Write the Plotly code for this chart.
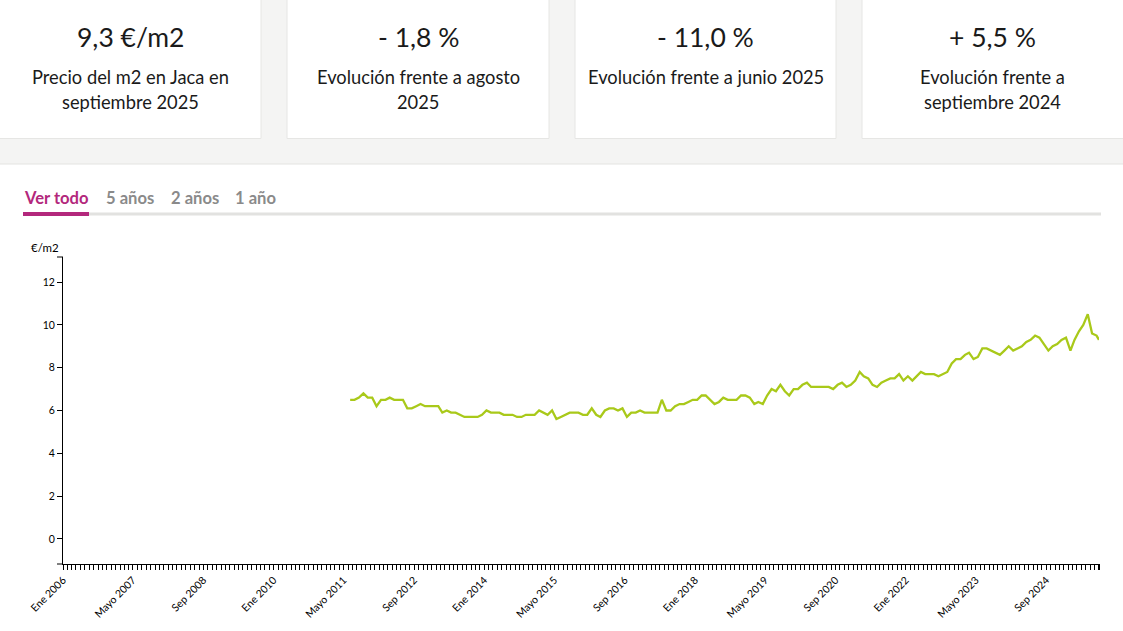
import plotly.graph_objects as go

# ---------------- data ----------------
month_names = ["Ene", "Feb", "Mar", "Abr", "Mayo", "Jun", "Jul", "Ago", "Sep", "Oct", "Nov", "Dic"]
first_year = 2006
last_year = 2025
last_month = 9  # Sep 2025

shown_tick_labels = ["Ene 2006", "Mayo 2007", "Sep 2008", "Ene 2010", "Mayo 2011", "Sep 2012",
                     "Ene 2014", "Mayo 2015", "Sep 2016", "Ene 2018", "Mayo 2019", "Sep 2020",
                     "Ene 2022", "Mayo 2023", "Sep 2024"]

data_start_year, data_start_month = 2011, 6  # Jun 2011
prices = [
    # Jun 2011 ->
    6.5, 6.5, 6.6, 6.8, 6.6, 6.6, 6.2, 6.5, 6.5, 6.6, 6.5, 6.5, 6.5, 6.1, 6.1, 6.2, 6.3, 6.2, 6.2, 6.2,
    6.2, 5.9, 6.0, 5.9, 5.9, 5.8, 5.7, 5.7, 5.7, 5.7, 5.8, 6.0, 5.9, 5.9, 5.9, 5.8, 5.8, 5.8, 5.7, 5.7,
    5.8, 5.8,
    5.8, 6.0, 5.9, 5.8, 6.0, 5.6, 5.7, 5.8, 5.9, 5.9, 5.9, 5.8, 5.8, 6.1, 5.8, 5.7, 6.0, 6.1, 6.1, 6.0,
    6.1, 5.7, 5.9, 5.9, 6.0, 5.9, 5.9, 5.9, 5.9, 6.5, 6.0, 6.0, 6.2, 6.3, 6.3, 6.4, 6.5, 6.5, 6.7, 6.7,
    6.5, 6.3,
    6.4, 6.6, 6.5, 6.5, 6.5, 6.7, 6.7, 6.6, 6.3, 6.4, 6.3, 6.7, 7.0, 6.9, 7.2, 6.9, 6.7, 7.0, 7.0, 7.2,
    7.3, 7.1, 7.1, 7.1, 7.1, 7.1, 7.0, 7.2, 7.3, 7.1, 7.2, 7.4, 7.8, 7.6, 7.5, 7.2, 7.1, 7.3, 7.4, 7.5,
    7.5, 7.7, 7.4, 7.6, 7.4,
    7.6, 7.8, 7.7, 7.7, 7.7, 7.6, 7.7, 7.8,
    8.2, 8.4, 8.4, 8.6, 8.7, 8.4, 8.5, 8.9, 8.9, 8.8, 8.7, 8.6, 8.8, 9.0, 8.8, 8.9, 9.0, 9.2, 9.3, 9.5,
    9.4, 9.1, 8.8, 9.0, 9.1, 9.3, 9.4, 8.8, 9.3, 9.7, 10.0, 10.5, 9.6, 9.5, 9.3,
]

y_ticks = [0, 2, 4, 6, 8, 10, 12]

card_values = ["9,3 €/m2", "- 1,8 %", "- 11,0 %", "+ 5,5 %"]
card_lines = [
    ["Precio del m2 en Jaca en", "septiembre 2025"],
    ["Evolución frente a agosto", "2025"],
    ["Evolución frente a junio 2025"],
    ["Evolución frente a", "septiembre 2024"],
]
tabs = ["Ver todo", "5 años", "2 años", "1 año"]

# ---------------- derived axis values ----------------
month_starts = []   # ISO dates of each month (axis ticks)
month_labels = []
for y in range(first_year, last_year + 1):
    for mi, name in enumerate(month_names, start=1):
        if y == last_year and mi > last_month:
            break
        month_starts.append(f"{y}-{mi:02d}-01")
        month_labels.append(f"{name} {y}")

start_idx = month_starts.index(f"{data_start_year}-{data_start_month:02d}-01")
xs = [d[:8] + "15" for d in month_starts[start_idx:start_idx + len(prices)]]
xs[-1] = month_starts[-1]  # last observation drawn at the end of the axis

# ---------------- layout helpers ----------------
W, H = 1123, 631
PL, PR, PT, PB = 63, 1099, 257, 564  # plot area in pixels


def fx(px):
    return (px - PL) / (PR - PL)


def fy(py):
    return (PB - py) / (PB - PT)


FONT = "Lato"
TEXT = "#1a1a1a"
LIME = "#a9c91a"
MAGENTA = "#b3287c"

fig = go.Figure()
fig.add_trace(go.Scatter(x=xs, y=prices, mode="lines", line=dict(color=LIME, width=2.3),
                         hoverinfo="y", showlegend=False))

shapes = []
annotations = []

# grey band with cards
shapes.append(dict(type="rect", xref="paper", yref="paper", x0=fx(-5), x1=fx(W + 5), y0=fy(164), y1=fy(-5),
                   fillcolor="#f4f4f3", line=dict(width=0), layer="below"))
shapes.append(dict(type="line", xref="paper", yref="paper", x0=fx(-5), x1=fx(W + 5), y0=fy(164), y1=fy(164),
                   line=dict(color="#e3e3e1", width=1.2)))
card_x = [(-3, 261), (287, 549), (575, 836), (862, 1126)]
for (x0, x1), val, lines in zip(card_x, card_values, card_lines):
    shapes.append(dict(type="rect", xref="paper", yref="paper", x0=fx(x0), x1=fx(x1), y0=fy(138.5), y1=fy(-3),
                       fillcolor="white", line=dict(color="#e6e6e4", width=1)))
    cx = fx((max(x0, -1) + min(x1, 1123)) / 2)
    annotations.append(dict(x=cx, y=fy(37), xref="paper", yref="paper", text=val, showarrow=False,
                            xanchor="center", yanchor="middle", font=dict(family=FONT, size=26.5, color=TEXT)))
    for k, ln in enumerate(lines):
        annotations.append(dict(x=cx, y=fy(77 + 25 * k), xref="paper", yref="paper", text=ln, showarrow=False,
                                xanchor="center", yanchor="middle", font=dict(family=FONT, size=18.3, color=TEXT)))

# tabs
tab_x = [21.5, 103.5, 168.5, 232.5]
for i, (t, x0) in enumerate(zip(tabs, tab_x)):
    annotations.append(dict(x=fx(x0), y=fy(198), xref="paper", yref="paper", text=f"<b>{t}</b>", showarrow=False,
                            xanchor="left", yanchor="middle",
                            font=dict(family=FONT, size=16.6, color=MAGENTA if i == 0 else "#8a8a8a")))
shapes.append(dict(type="rect", xref="paper", yref="paper", x0=fx(23), x1=fx(1101), y0=fy(215.5), y1=fy(212.5),
                   fillcolor="#e2e2e0", line=dict(width=0)))
shapes.append(dict(type="rect", xref="paper", yref="paper", x0=fx(23), x1=fx(89), y0=fy(216), y1=fy(212),
                   fillcolor=MAGENTA, line=dict(width=0)))

# y axis unit label
annotations.append(dict(x=fx(29), y=fy(247), xref="paper", yref="paper", text="€/m2", showarrow=False,
                        xanchor="left", yanchor="middle", font=dict(family=FONT, size=11.5, color="#000")))

# outer ticks of axes (domain ends)
shapes.append(dict(type="line", xref="paper", yref="paper", x0=fx(57), x1=fx(63), y0=1, y1=1,
                   line=dict(color="#000", width=1)))
shapes.append(dict(type="line", xref="paper", yref="paper", x0=fx(57), x1=fx(63), y0=0, y1=0,
                   line=dict(color="#000", width=1)))
shapes.append(dict(type="line", xref="paper", yref="paper", x0=1, x1=1, y0=0, y1=fy(570),
                   line=dict(color="#000", width=2)))

fig.update_layout(
    width=W, height=H,
    margin=dict(l=PL, r=W - PR, t=PT, b=H - PB, autoexpand=False),
    paper_bgcolor="white", plot_bgcolor="white",
    font=dict(family=FONT, color="#000", size=11),
    shapes=shapes, annotations=annotations,
    showlegend=False,
    xaxis=dict(
        type="date",
        range=[month_starts[0], month_starts[-1]],
        tickmode="array", tickvals=month_starts,
        ticktext=[lab if lab in shown_tick_labels else "" for lab in month_labels],
        tickangle=-45, ticks="outside", ticklen=5, tickwidth=1, tickcolor="#000",
        showline=True, linecolor="#000", linewidth=1,
        showgrid=False, zeroline=False, automargin=False,
        tickfont=dict(family=FONT, size=10.5, color="#000"),
        fixedrange=True,
    ),
    yaxis=dict(
        range=[-1.17, 13.17],
        tickmode="array", tickvals=y_ticks, ticktext=[str(v) for v in y_ticks],
        ticks="outside", ticklen=5, tickwidth=1, tickcolor="#000",
        showline=True, linecolor="#000", linewidth=1,
        showgrid=False, zeroline=False, automargin=False,
        tickfont=dict(family=FONT, size=10.5, color="#000"),
        fixedrange=True,
    ),
)

fig.write_html("out.html", config={"displayModeBar": False},
               post_script="document.body.style.margin='0';document.body.style.overflow='hidden';")
